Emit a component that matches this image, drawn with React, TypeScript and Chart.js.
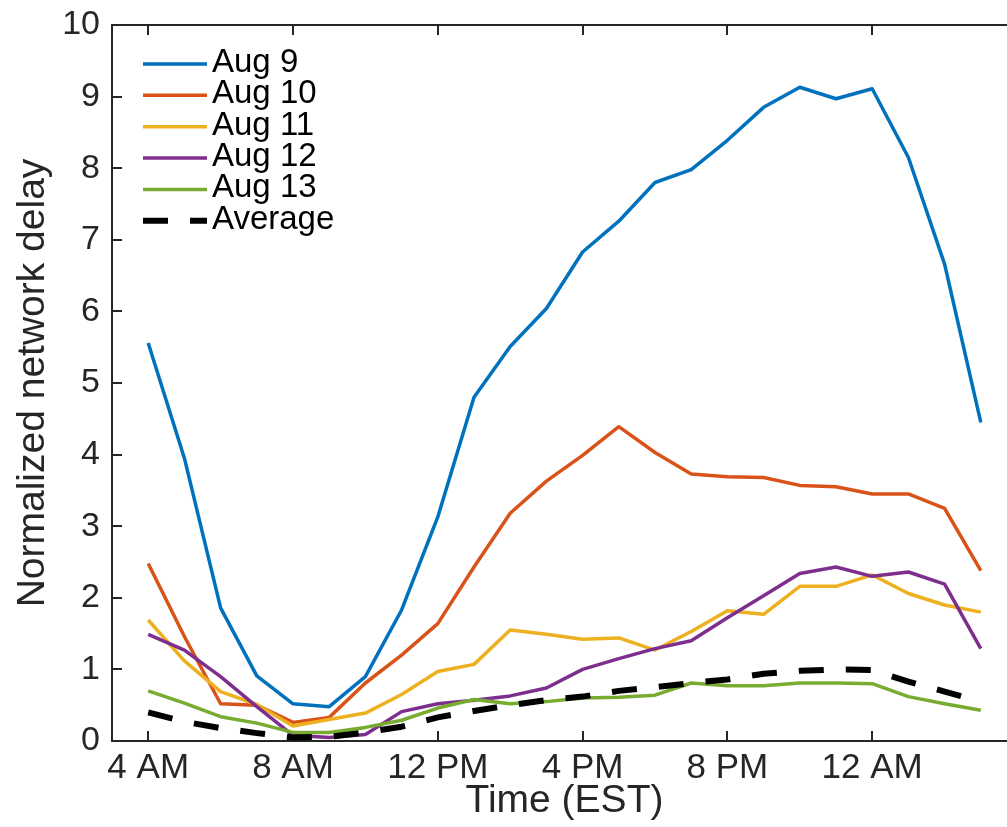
import React, { useEffect, useRef } from 'react';
import { Chart, registerables } from 'chart.js';

Chart.register(...registerables);

// Hourly samples: 4 AM (index 0) through 3 AM next day (index 23)
const hourLabels = [
  '4 AM', '5 AM', '6 AM', '7 AM', '8 AM', '9 AM', '10 AM', '11 AM',
  '12 PM', '1 PM', '2 PM', '3 PM', '4 PM', '5 PM', '6 PM', '7 PM',
  '8 PM', '9 PM', '10 PM', '11 PM', '12 AM', '1 AM', '2 AM', '3 AM',
];

const xTickHours = [0, 4, 8, 12, 16, 20];
const xTickLabels = ['4 AM', '8 AM', '12 PM', '4 PM', '8 PM', '12 AM'];
const yTicks = [0, 1, 2, 3, 4, 5, 6, 7, 8, 9, 10];

const aug9 = [5.56, 3.95, 1.86, 0.91, 0.52, 0.48, 0.90, 1.83, 3.13, 4.80, 5.51, 6.04, 6.83, 7.26, 7.80, 7.98, 8.39, 8.85, 9.13, 8.97, 9.11, 8.15, 6.66, 4.45];
const aug10 = [2.48, 1.46, 0.52, 0.50, 0.26, 0.33, 0.81, 1.20, 1.64, 2.43, 3.18, 3.63, 3.99, 4.39, 4.03, 3.73, 3.69, 3.68, 3.57, 3.55, 3.45, 3.45, 3.25, 2.38];
const aug11 = [1.69, 1.12, 0.69, 0.51, 0.21, 0.30, 0.39, 0.65, 0.97, 1.07, 1.55, 1.49, 1.42, 1.44, 1.27, 1.53, 1.82, 1.77, 2.16, 2.16, 2.32, 2.06, 1.90, 1.80];
const aug12 = [1.49, 1.27, 0.90, 0.48, 0.08, 0.05, 0.09, 0.41, 0.52, 0.57, 0.63, 0.74, 1.00, 1.15, 1.29, 1.40, 1.72, 2.03, 2.34, 2.43, 2.30, 2.36, 2.19, 1.29];
const aug13 = [0.70, 0.53, 0.34, 0.25, 0.12, 0.12, 0.19, 0.29, 0.46, 0.58, 0.52, 0.55, 0.60, 0.61, 0.64, 0.81, 0.77, 0.77, 0.81, 0.81, 0.80, 0.62, 0.52, 0.43];
const average = [0.40, 0.27, 0.18, 0.11, 0.05, 0.06, 0.12, 0.20, 0.33, 0.42, 0.50, 0.57, 0.62, 0.70, 0.75, 0.81, 0.86, 0.94, 0.98, 1.00, 0.99, 0.83, 0.69, 0.55];

const seriesNames = ['Aug 9', 'Aug 10', 'Aug 11', 'Aug 12', 'Aug 13', 'Average'];
const seriesValues = [aug9, aug10, aug11, aug12, aug13, average];
const seriesColors = ['#0072BD', '#D95319', '#EDB120', '#7E2F8E', '#77AC30', '#000000'];

const AXIS_COLOR = '#262626';
const FONT_FAMILY = '"Liberation Sans", Arial, Helvetica, sans-serif';

const axesDecor = {
  id: 'axesDecor',
  beforeDatasetsDraw(chart: any) {
    const { ctx, chartArea: a, scales } = chart;
    ctx.save();
    ctx.strokeStyle = AXIS_COLOR;
    ctx.lineWidth = 2;
    ctx.beginPath();
    ctx.rect(a.left, a.top, a.right - a.left, a.bottom - a.top);
    const tl = 10;
    for (const h of xTickHours) {
      const x = Math.round(scales.x.getPixelForValue(h));
      ctx.moveTo(x, a.bottom);
      ctx.lineTo(x, a.bottom - tl);
      ctx.moveTo(x, a.top);
      ctx.lineTo(x, a.top + tl);
    }
    for (const v of yTicks) {
      const y = Math.round(scales.y.getPixelForValue(v));
      ctx.moveTo(a.left, y);
      ctx.lineTo(a.left + tl, y);
      ctx.moveTo(a.right, y);
      ctx.lineTo(a.right - tl, y);
    }
    ctx.stroke();
    ctx.restore();
  },
};

const legendDecor = {
  id: 'legendDecor',
  afterDatasetsDraw(chart: any) {
    const { ctx } = chart;
    const x0 = 143;
    const x1 = 207;
    const textX = 212;
    const rowY0 = 64;
    const rowStep = 31.35;
    ctx.save();
    ctx.font = `33px ${FONT_FAMILY}`;
    ctx.textAlign = 'left';
    ctx.textBaseline = 'alphabetic';
    chart.data.datasets.forEach((ds: any, i: number) => {
      const y = rowY0 + i * rowStep;
      ctx.strokeStyle = ds.borderColor;
      ctx.lineWidth = ds.borderWidth;
      ctx.lineCap = 'butt';
      ctx.setLineDash(ds.borderDash || []);
      ctx.beginPath();
      ctx.moveTo(x0, y);
      ctx.lineTo(x1, y);
      ctx.stroke();
      ctx.setLineDash([]);
      ctx.fillStyle = '#000';
      ctx.fillText(ds.label, textX, y + 8);
    });
    ctx.restore();
  },
};

export default function App() {
  const canvasRef = useRef<HTMLCanvasElement | null>(null);

  useEffect(() => {
    if (!canvasRef.current) return;
    const datasets = seriesNames.map((name, i) => {
      const isAvg = name === 'Average';
      return {
        label: name,
        data: seriesValues[i].map((v, k) => ({ x: hourLabels.indexOf(hourLabels[k]), y: v })),
        borderColor: seriesColors[i],
        backgroundColor: seriesColors[i],
        borderWidth: isAvg ? 6 : 3.5,
        borderDash: isAvg ? [25, 22] : undefined,
        borderCapStyle: 'butt',
        borderJoinStyle: 'round',
        pointRadius: 0,
        tension: 0,
        fill: false,
        order: seriesNames.length - i,
      };
    });

    const chart = new Chart(canvasRef.current, {
      type: 'line',
      data: { datasets } as any,
      options: {
        responsive: false,
        animation: false,
        devicePixelRatio: 1,
        layout: { padding: { top: 25, right: 13, left: 0, bottom: 0 } },
        plugins: {
          legend: { display: false },
          tooltip: { enabled: false },
        },
        scales: {
          x: {
            type: 'linear',
            min: -1,
            max: 24,
            afterBuildTicks: (s: any) => {
              s.ticks = xTickHours.map((v) => ({ value: v }));
            },
            afterFit: (s: any) => {
              s.height = 86;
              s.paddingLeft = 0;
              s.paddingRight = 0;
              s.paddingTop = 0;
              s.paddingBottom = 0;
            },
            grid: { display: false, drawTicks: false },
            border: { display: false },
            ticks: {
              autoSkip: false,
              maxRotation: 0,
              padding: 6,
              color: AXIS_COLOR,
              font: { family: FONT_FAMILY, size: 35 },
              callback: (v: any) => {
                const idx = xTickHours.indexOf(Number(v));
                return idx >= 0 ? xTickLabels[idx] : '';
              },
            },
            title: {
              display: true,
              text: 'Time (EST)',
              color: AXIS_COLOR,
              font: { family: FONT_FAMILY, size: 39 },
              padding: { top: 0, bottom: 2 },
            },
          },
          y: {
            type: 'linear',
            min: 0,
            max: 10,
            afterBuildTicks: (s: any) => {
              s.ticks = yTicks.map((v) => ({ value: v }));
            },
            afterFit: (s: any) => {
              s.width = 112;
              s.paddingLeft = 0;
              s.paddingRight = 0;
              s.paddingTop = 0;
              s.paddingBottom = 0;
            },
            grid: { display: false, drawTicks: false },
            border: { display: false },
            ticks: {
              padding: 12,
              color: AXIS_COLOR,
              font: { family: FONT_FAMILY, size: 34 },
            },
            title: {
              display: true,
              text: 'Normalized network delay',
              color: AXIS_COLOR,
              font: { family: FONT_FAMILY, size: 39 },
              padding: { top: 10, bottom: 0 },
            },
          },
        },
      } as any,
      plugins: [axesDecor, legendDecor],
    });

    return () => {
      chart.destroy();
    };
  }, []);

  return (
    <div
      style={{
        position: 'fixed',
        left: 0,
        top: 0,
        width: 1007,
        height: 827,
        overflow: 'hidden',
        background: '#ffffff',
      }}
    >
      <canvas ref={canvasRef} width={1030} height={827} style={{ display: 'block' }} />
    </div>
  );
}
